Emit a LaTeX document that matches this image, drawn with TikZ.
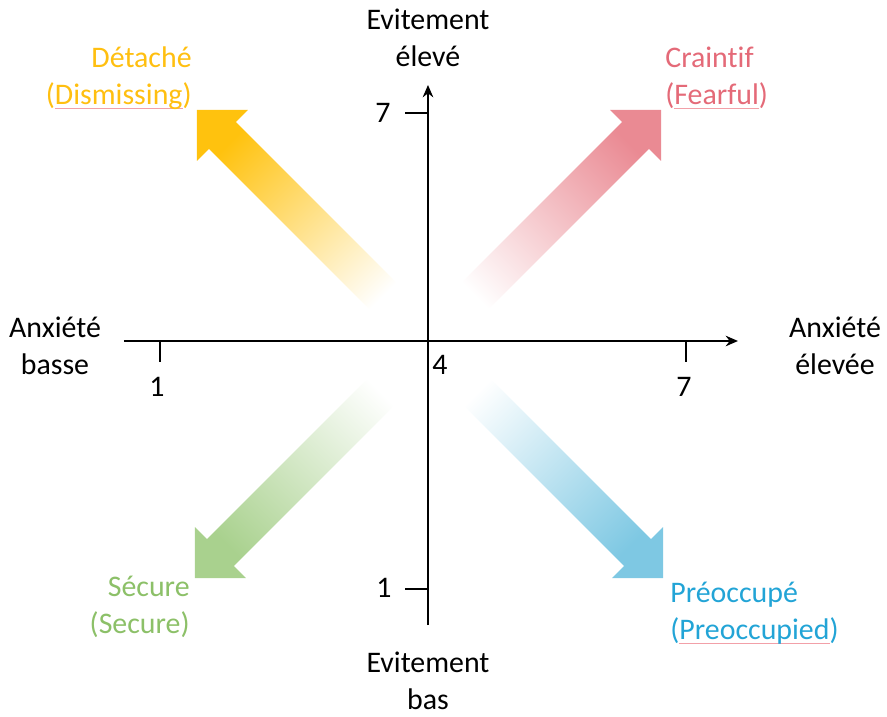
\documentclass[tikz,border=0pt]{standalone}
\usepackage{fontspec}
\setmainfont{Carlito}[Ligatures=NoCommon]
\usepackage{tikz}
\usetikzlibrary{arrows.meta}

\definecolor{jaune}{HTML}{FFC20E}
\definecolor{rouge}{HTML}{EA8A93}
\definecolor{vert}{HTML}{A9D18E}
\definecolor{bleu}{HTML}{7EC8E3}
\definecolor{txtjaune}{HTML}{FFBF10}
\definecolor{txtrouge}{HTML}{E46A78}
\definecolor{txtvert}{HTML}{8CC068}
\definecolor{txtbleu}{HTML}{22A4D6}
\definecolor{rose}{HTML}{F2A0A8}

\newcommand{\souligne}[1]{\setbox0\hbox{#1}\rlap{\textcolor{rose}{\rule[-2.6pt]{\wd0}{0.5pt}}}\box0}

\begin{document}
\begin{tikzpicture}[
	lab/.style={align=center, font=\fontsize{17}{21}\selectfont, inner sep=0pt},
	num/.style={font=\fontsize{17}{21}\selectfont, inner sep=0pt},
	axe/.style={-{Stealth[length=7pt, width=6pt]}, line width=1.1pt},
	tick/.style={line width=1.1pt},
	fleche/.style={draw=none}
	]
	\useasboundingbox (-8.56,-7.52) rectangle (9.18,6.82);

	% axes
	\coordinate (xmin) at (-6.08,0);
	\coordinate (xmax) at (6.2,0);
	\coordinate (ymin) at (0,-5.68);
	\coordinate (ymax) at (0,5.12);
	\draw[axe] (xmin) -- (xmax);
	\draw[axe] (ymin) -- (ymax);

	\coordinate (x1) at (-5.36,0);
	\coordinate (x7) at (5.16,0);
	\coordinate (y1) at (0,-4.96);
	\coordinate (y7) at (0,4.56);
	\draw[tick] (x1) -- ++(0,-0.42);
	\draw[tick] (x7) -- ++(0,-0.42);
	\draw[tick] (y1) -- ++(-0.46,0);
	\draw[tick] (y7) -- ++(-0.46,0);

	\node[num] (nx1) at (-5.42,-0.92) {1};
	\node[num] (nx7) at (5.12,-0.92) {7};
	\node[num] (ny1) at (-0.88,-4.94) {1};
	\node[num] (ny7) at (-0.9,4.56) {7};
	\node[num] (n4) at (0.24,-0.48) {4};

	\node[lab] (evhaut) at (0,6.06) {Evitement\\élevé};
	\node[lab] (evbas) at (0,-6.8) {Evitement\\bas};
	\node[lab] (anxbas) at (-7.46,-0.1) {Anxiété\\basse};
	\node[lab] (anxhaut) at (8.14,-0.1) {Anxiété\\élevée};

	% fleches
	\coordinate (qjaune) at (-0.52,0.52);
	\coordinate (qrouge) at (0.56,0.52);
	\coordinate (qvert) at (-0.56,-0.64);
	\coordinate (qbleu) at (0.6,-0.64);
	\shade[fleche, top color=jaune, bottom color=white, shading angle=45, shift={(qjaune)}, rotate=135]
		(0,-0.38) -- (5.08,-0.38) -- (5.08,-0.72) -- (5.8,0) -- (5.08,0.72) -- (5.08,0.38) -- (0,0.38) -- cycle;
	\shade[fleche, top color=rouge, bottom color=white, shading angle=-45, shift={(qrouge)}, rotate=45]
		(0,-0.38) -- (5.08,-0.38) -- (5.08,-0.72) -- (5.8,0) -- (5.08,0.72) -- (5.08,0.38) -- (0,0.38) -- cycle;
	\shade[fleche, top color=vert, bottom color=white, shading angle=135, shift={(qvert)}, rotate=225]
		(0,-0.38) -- (5.08,-0.38) -- (5.08,-0.72) -- (5.8,0) -- (5.08,0.72) -- (5.08,0.38) -- (0,0.38) -- cycle;
	\shade[fleche, top color=bleu, bottom color=white, shading angle=-135, shift={(qbleu)}, rotate=-45]
		(0,-0.38) -- (5.08,-0.38) -- (5.08,-0.72) -- (5.8,0) -- (5.08,0.72) -- (5.08,0.38) -- (0,0.38) -- cycle;

	\node[lab, align=right, anchor=east, text=txtjaune] (detache) at (-4.72,5.26) {Détaché\\(\souligne{Dismissing})};
	\node[lab, align=left, anchor=west, text=txtrouge] (craintif) at (4.74,5.26) {Craintif\\(\souligne{Fearful})};
	\node[lab, align=right, anchor=east, text=txtvert] (secure) at (-4.76,-5.32) {Sécure\\(Secure)};
	\node[lab, align=left, anchor=west, text=txtbleu] (preocc) at (4.84,-5.44) {Préoccupé\\(\souligne{Preoccupied})};
\end{tikzpicture}
\end{document}
